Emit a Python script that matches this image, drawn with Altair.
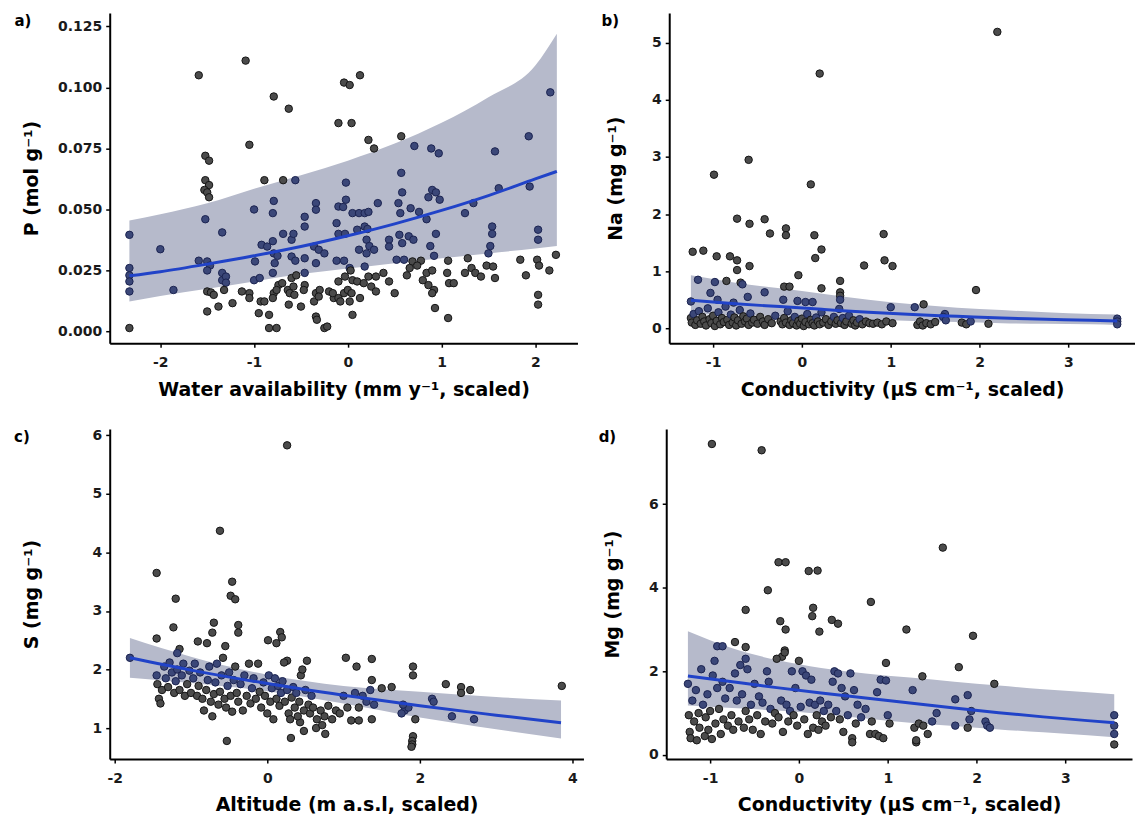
import altair as alt
import numpy as np
import pandas as pd

# ---------------- Panel a: P vs water availability ----------------
a_pts = [(-2.33, 0.0396), (-2.33, 0.026), (-2.33, 0.023), (-2.33, 0.0205), (-2.33, 0.0164), (-2.33, 0.0014),
         (-2.0, 0.0337), (-1.86, 0.017), (-1.59, 0.105), (-1.59, 0.029),
         (-1.52, 0.072), (-1.48, 0.070), (-1.52, 0.062), (-1.48, 0.060), (-1.53, 0.058), (-1.5, 0.057),
         (-1.48, 0.055), (-1.52, 0.046), (-1.5, 0.0287), (-1.47, 0.027), (-1.5, 0.025), (-1.5, 0.0164),
         (-1.46, 0.016), (-1.43, 0.015), (-1.5, 0.0082), (-1.34, 0.0406), (-1.34, 0.024), (-1.34, 0.021),
         (-1.38, 0.0102), (-1.3, 0.0225), (-1.3, 0.020), (-1.32, 0.017), (-1.23, 0.0116), (-1.13, 0.0164),
         (-1.09, 0.111), (-1.05, 0.0765), (-1.05, 0.0157), (-1.05, 0.0137), (-1.0, 0.050), (-0.99, 0.0287),
         (-1.0, 0.021), (-0.95, 0.0075), (-0.93, 0.0123), (-0.94, 0.0219), (-0.92, 0.0355), (-0.89, 0.062),
         (-0.89, 0.0123), (-0.84, 0.0068), (-0.84, 0.0014), (-0.86, 0.0348), (-0.79, 0.0963), (-0.79, 0.0535),
         (-0.8, 0.0485), (-0.8, 0.037), (-0.79, 0.032), (-0.78, 0.028), (-0.8, 0.024), (-0.79, 0.0157),
         (-0.8, 0.0137), (-0.76, 0.0014), (-0.75, 0.031), (-0.74, 0.019), (-0.76, 0.017), (-0.69, 0.062),
         (-0.69, 0.040), (-0.7, 0.0198), (-0.63, 0.0913), (-0.64, 0.017), (-0.62, 0.0157), (-0.63, 0.011),
         (-0.6, 0.0376), (-0.58, 0.040), (-0.6, 0.0307), (-0.6, 0.0219), (-0.58, 0.0184), (-0.57, 0.015),
         (-0.56, 0.062), (-0.56, 0.029), (-0.55, 0.023), (-0.5, 0.0102), (-0.46, 0.047), (-0.46, 0.043),
         (-0.46, 0.030), (-0.46, 0.024), (-0.46, 0.019), (-0.47, 0.017), (-0.34, 0.0526), (-0.34, 0.0499),
         (-0.36, 0.0348), (-0.34, 0.028), (-0.34, 0.0157), (-0.36, 0.0123), (-0.34, 0.0061), (-0.33, 0.0048),
         (-0.31, 0.0335), (-0.3, 0.017), (-0.31, 0.0143), (-0.25, 0.0014), (-0.22, 0.002), (-0.25, 0.032),
         (-0.2, 0.0164), (-0.15, 0.0137), (-0.16, 0.0157), (-0.1, 0.0854), (-0.1, 0.0512), (-0.12, 0.0444),
         (-0.1, 0.040), (-0.12, 0.029), (-0.1, 0.0205), (-0.1, 0.0137), (-0.08, 0.0123), (-0.04, 0.102),
         (-0.02, 0.061), (-0.02, 0.054), (-0.05, 0.051), (-0.03, 0.040), (-0.04, 0.029), (-0.03, 0.0225),
         (-0.04, 0.0157), (0.02, 0.101), (0.04, 0.0854), (0.05, 0.0485), (0.02, 0.026), (0.03, 0.025),
         (0.05, 0.021), (0.0, 0.017), (0.04, 0.0157), (0.02, 0.0123), (0.05, 0.0068), (0.13, 0.105),
         (0.12, 0.0485), (0.1, 0.0417), (0.12, 0.0335), (0.1, 0.0205), (0.13, 0.0137), (0.22, 0.0785),
         (0.18, 0.0485), (0.22, 0.049), (0.18, 0.043), (0.21, 0.042), (0.2, 0.0376), (0.23, 0.035),
         (0.2, 0.032), (0.18, 0.0266), (0.22, 0.0225), (0.17, 0.0198), (0.25, 0.0184), (0.28, 0.075),
         (0.32, 0.0526), (0.28, 0.0335), (0.3, 0.0225), (0.3, 0.0164), (0.38, 0.024), (0.44, 0.0376),
         (0.44, 0.0348), (0.44, 0.0205), (0.5, 0.0157), (0.54, 0.0526), (0.52, 0.0294), (0.57, 0.080),
         (0.57, 0.065), (0.58, 0.057), (0.56, 0.0485), (0.55, 0.0396), (0.58, 0.0362), (0.6, 0.0294),
         (0.67, 0.0505), (0.65, 0.039), (0.7, 0.0376), (0.69, 0.0287), (0.66, 0.026), (0.63, 0.023),
         (0.71, 0.076), (0.76, 0.049), (0.78, 0.029), (0.74, 0.027), (0.8, 0.021), (0.84, 0.024),
         (0.89, 0.075), (0.97, 0.073), (0.9, 0.058), (0.94, 0.057), (0.86, 0.055), (0.98, 0.054),
         (0.84, 0.046), (0.94, 0.040), (0.88, 0.035), (0.92, 0.031), (0.9, 0.025), (0.86, 0.019),
         (0.92, 0.017), (0.9, 0.0157), (0.93, 0.0096), (1.07, 0.029), (1.06, 0.024), (1.08, 0.0198),
         (1.07, 0.0055), (1.13, 0.0198), (1.25, 0.0485), (1.25, 0.024), (1.28, 0.030), (1.34, 0.0526),
         (1.32, 0.026), (1.36, 0.024), (1.42, 0.0225), (1.57, 0.0738), (1.54, 0.043), (1.54, 0.040),
         (1.52, 0.035), (1.5, 0.032), (1.48, 0.027), (1.55, 0.0266), (1.57, 0.0219), (1.61, 0.0587),
         (1.84, 0.0294), (1.9, 0.023), (1.93, 0.080), (1.94, 0.0594), (2.03, 0.0417), (2.03, 0.0376),
         (2.02, 0.0294), (2.04, 0.027), (2.03, 0.015), (2.03, 0.011), (2.15, 0.025), (2.16, 0.098),
         (2.22, 0.0314)]
a_fit_x = [-2.33, -2.0, -1.5, -1.0, -0.5, 0.0, 0.5, 1.0, 1.5, 2.0, 2.23]
a_fit = [0.0228, 0.0245, 0.0276, 0.0310, 0.0348, 0.0392, 0.0441, 0.0496, 0.0557, 0.0625, 0.0656]
a_lo = [0.0123, 0.0145, 0.0175, 0.0205, 0.0235, 0.0258, 0.0280, 0.0300, 0.0320, 0.0340, 0.0350]
a_hi = [0.0455, 0.0480, 0.0525, 0.0585, 0.0640, 0.0700, 0.0770, 0.0855, 0.0960, 0.1090, 0.1220]

# ---------------- Panel b: Na vs conductivity ----------------
b_pts = [(2.2, 5.19), (0.2, 4.46), (-0.6, 2.95), (-0.99, 2.69), (0.1, 2.52), (-0.73, 1.92), (-0.59, 1.83),
         (-0.42, 1.91), (-0.36, 1.66), (-0.18, 1.75), (-0.18, 1.63), (0.14, 1.63), (0.22, 1.38), (0.15, 1.23),
         (0.92, 1.65), (0.93, 1.19), (1.02, 1.09), (0.7, 1.10), (1.96, 0.67), (-1.23, 1.34), (-1.11, 1.36),
         (-0.96, 1.26), (-0.81, 1.26), (-0.73, 1.19), (-0.73, 1.02), (-0.59, 1.09), (-0.04, 0.93), (-1.17, 0.85),
         (-0.98, 0.81), (-0.85, 0.83), (-0.69, 0.80), (-0.67, 0.77), (-0.2, 0.73), (-0.14, 0.73), (0.22, 0.70),
         (0.43, 0.83), (0.43, 0.63), (0.43, 0.57), (0.43, 0.50), (-1.03, 0.62), (-0.61, 0.55), (-0.42, 0.63),
         (-0.21, 0.50), (-0.05, 0.48), (0.04, 0.46), (0.12, 0.46), (1.0, 0.37), (1.27, 0.37), (1.37, 0.42),
         (1.61, 0.25), (1.59, 0.20), (-1.25, 0.47), (-0.95, 0.50), (-0.77, 0.45),
         (-1.25, 0.18), (-1.24, 0.10), (-1.22, 0.25), (-1.2, 0.06), (-1.18, 0.14), (-1.16, 0.30), (-1.14, 0.08),
         (-1.12, 0.20), (-1.1, 0.12), (-1.08, 0.05), (-1.06, 0.35), (-1.04, 0.16), (-1.02, 0.09), (-1.0, 0.22),
         (-0.98, 0.04), (-0.96, 0.13), (-0.94, 0.28), (-0.92, 0.07), (-0.9, 0.18), (-0.88, 0.11), (-0.86, 0.38),
         (-0.84, 0.15), (-0.82, 0.06), (-0.8, 0.24), (-0.78, 0.10), (-0.76, 0.19), (-0.74, 0.05), (-0.72, 0.14),
         (-0.7, 0.32), (-0.68, 0.08), (-0.66, 0.21), (-0.64, 0.12), (-0.62, 0.17), (-0.6, 0.06), (-0.58, 0.26),
         (-0.56, 0.10), (-0.54, 0.15), (-0.5, 0.08), (-0.47, 0.20), (-0.44, 0.12), (-0.42, 0.06), (-0.38, 0.16),
         (-0.34, 0.09), (-0.3, 0.22), (-0.24, 0.12), (-0.22, 0.07), (-0.2, 0.18), (-0.18, 0.10), (-0.16, 0.30),
         (-0.14, 0.06), (-0.12, 0.14), (-0.1, 0.09), (-0.08, 0.20), (-0.06, 0.05), (-0.04, 0.13), (-0.02, 0.08),
         (0.0, 0.17), (0.02, 0.04), (0.04, 0.11), (0.06, 0.25), (0.08, 0.07), (0.1, 0.15), (0.12, 0.09),
         (0.14, 0.05), (0.16, 0.19), (0.18, 0.12), (0.2, 0.07), (0.22, 0.28), (0.24, 0.10), (0.27, 0.16),
         (0.3, 0.06), (0.33, 0.12), (0.36, 0.20), (0.38, 0.08), (0.4, 0.14), (0.42, 0.34), (0.44, 0.09),
         (0.46, 0.18), (0.48, 0.06), (0.5, 0.12), (0.53, 0.22), (0.56, 0.08), (0.58, 0.14), (0.6, 0.05),
         (0.62, 0.10), (0.65, 0.16), (0.68, 0.07), (0.72, 0.12), (0.76, 0.09), (0.8, 0.08), (0.85, 0.10),
         (0.9, 0.07), (0.95, 0.12), (1.02, 0.09), (1.3, 0.06), (1.33, 0.12), (1.36, 0.05), (1.4, 0.09),
         (1.45, 0.07), (1.5, 0.11), (1.62, 0.14), (1.8, 0.10), (1.85, 0.07), (1.9, 0.12), (2.1, 0.08),
         (3.55, 0.17), (3.55, 0.12), (3.55, 0.07)]
b_fit_x = [-1.25, -0.75, -0.25, 0.25, 0.75, 1.25, 1.75, 2.25, 2.75, 3.25, 3.55]
b_fit = [0.49, 0.43, 0.38, 0.33, 0.28, 0.24, 0.21, 0.18, 0.16, 0.14, 0.13]
b_lo = [0.25, 0.23, 0.21, 0.18, 0.15, 0.13, 0.11, 0.09, 0.08, 0.07, 0.06]
b_hi = [0.93, 0.80, 0.70, 0.60, 0.50, 0.42, 0.36, 0.32, 0.28, 0.25, 0.24]

# ---------------- Panel c: S vs altitude ----------------
c_pts = [(0.26, 5.83), (-0.62, 4.37), (-1.45, 3.65), (-0.46, 3.5), (-0.48, 3.26), (-0.42, 3.2), (-1.2, 3.21),
         (-0.7, 2.8), (-0.38, 2.76), (-0.38, 2.63), (-1.23, 2.72), (-0.72, 2.63), (0.17, 2.64), (0.19, 2.55),
         (0.01, 2.5), (0.12, 2.45), (-1.45, 2.53), (-0.91, 2.48), (-0.79, 2.45), (-0.55, 2.4), (-1.15, 2.35),
         (-1.18, 2.28), (1.03, 2.2), (1.37, 2.18), (0.26, 2.15), (0.22, 2.12), (1.91, 2.05), (1.91, 1.9),
         (1.17, 2.05), (1.37, 1.82), (2.34, 1.75), (2.54, 1.7), (2.66, 1.65), (2.54, 1.6), (3.86, 1.72),
         (1.5, 1.68), (1.63, 1.7), (2.16, 1.5), (2.18, 1.45), (2.42, 1.2), (2.71, 1.15), (1.1, 1.13),
         (1.2, 1.13), (1.37, 1.15), (1.91, 0.86), (1.9, 0.78), (1.9, 0.72), (1.89, 0.68), (1.94, 1.15),
         (1.8, 1.3), (1.85, 1.35), (1.78, 1.4), (1.76, 1.25), (-0.53, 0.78), (0.31, 0.83), (0.76, 0.9),
         (0.48, 0.95), (0.64, 1.0), (0.72, 1.05), (0.43, 1.1),
         (-1.8, 2.2), (-1.45, 1.9), (-1.44, 1.75), (-1.42, 1.5), (-1.4, 1.42), (-1.38, 1.65), (-1.35, 2.05),
         (-1.33, 1.85), (-1.3, 1.7), (-1.28, 2.12), (-1.25, 1.95), (-1.22, 1.6), (-1.2, 1.8), (-1.18, 2.0),
         (-1.15, 1.65), (-1.12, 1.9), (-1.1, 2.1), (-1.08, 1.55), (-1.05, 1.75), (-1.02, 1.98), (-1.0, 1.6),
         (-0.97, 1.85), (-0.95, 2.1), (-0.92, 1.55), (-0.9, 1.72), (-0.88, 1.95), (-0.85, 1.5), (-0.83, 1.3),
         (-0.8, 1.65), (-0.78, 1.82), (-0.76, 2.05), (-0.74, 1.45), (-0.72, 1.2), (-0.7, 1.58), (-0.68, 1.78),
         (-0.66, 2.1), (-0.64, 1.4), (-0.62, 1.62), (-0.6, 1.9), (-0.58, 2.2), (-0.56, 1.5), (-0.54, 1.35),
         (-0.52, 1.72), (-0.5, 1.95), (-0.48, 1.55), (-0.46, 1.28), (-0.44, 1.82), (-0.42, 2.05), (-0.4, 1.6),
         (-0.38, 1.45), (-0.35, 1.75), (-0.32, 1.3), (-0.3, 1.9), (-0.27, 1.55), (-0.24, 2.1), (-0.22, 1.42),
         (-0.2, 1.68), (-0.18, 1.85), (-0.15, 1.5), (-0.12, 2.1), (-0.1, 1.62), (-0.08, 1.35), (-0.05, 1.78),
         (-0.03, 1.55), (0.0, 1.25), (0.02, 1.9), (0.04, 1.45), (0.06, 1.68), (0.08, 1.15), (0.1, 1.85),
         (0.12, 1.5), (0.14, 1.72), (0.16, 1.38), (0.18, 1.6), (0.2, 1.8), (0.23, 1.45), (0.26, 1.65),
         (0.28, 1.25), (0.3, 1.15), (0.32, 1.52), (0.34, 1.7), (0.36, 1.35), (0.38, 1.6), (0.4, 1.2),
         (0.42, 1.45), (0.44, 1.9), (0.46, 2.0), (0.48, 1.3), (0.5, 1.65), (0.52, 2.15), (0.54, 1.4),
         (0.56, 1.25), (0.58, 1.55), (0.6, 1.35), (0.65, 1.15), (0.7, 1.3), (0.75, 1.2), (0.8, 1.38),
         (0.85, 1.15), (0.9, 1.3), (0.95, 1.25), (1.0, 1.55), (1.05, 1.35), (1.15, 1.6), (1.2, 1.35),
         (1.25, 1.55), (1.3, 1.45), (1.35, 1.65), (1.4, 1.4)]
c_fit_x = [-1.8, -1.0, 0.0, 1.0, 2.0, 3.0, 3.85]
c_fit = [2.20, 1.99, 1.76, 1.56, 1.38, 1.22, 1.09]
c_lo = [1.86, 1.77, 1.63, 1.42, 1.18, 0.98, 0.82]
c_hi = [2.54, 2.22, 1.91, 1.72, 1.62, 1.53, 1.47]

# ---------------- Panel d: Mg vs conductivity ----------------
d_pts = [(-0.98, 7.44), (-0.42, 7.29), (1.62, 4.96), (-0.23, 4.61), (-0.15, 4.61), (0.11, 4.4), (0.21, 4.41),
         (-0.35, 3.94), (0.81, 3.66), (-0.6, 3.47), (0.16, 3.52), (0.15, 3.32), (0.37, 3.23), (0.44, 3.14),
         (-0.21, 3.2), (-0.15, 3.0), (0.23, 2.95), (1.21, 3.0), (1.96, 2.85), (-0.72, 2.7), (-0.92, 2.6),
         (-0.86, 2.6), (-0.6, 2.58), (-0.16, 2.5), (-0.19, 2.35), (-0.6, 2.3), (0.98, 2.2), (1.8, 2.1),
         (1.39, 1.88), (2.2, 1.7), (1.28, 1.55), (1.9, 1.43), (1.76, 1.33), (3.55, 0.95), (3.55, 0.7),
         (3.55, 0.5), (3.55, 0.25), (1.32, 0.3), (1.32, 0.35),
         (-1.25, 1.7), (-1.24, 0.95), (-1.23, 0.55), (-1.22, 0.4), (-1.2, 1.3), (-1.18, 0.8), (-1.16, 1.55),
         (-1.15, 0.35), (-1.13, 1.0), (-1.12, 0.65), (-1.1, 2.05), (-1.08, 1.2), (-1.06, 0.45), (-1.05, 0.9),
         (-1.03, 1.45), (-1.02, 0.6), (-1.0, 1.05), (-0.98, 0.38), (-0.97, 1.9), (-0.95, 2.25), (-0.94, 0.75),
         (-0.92, 1.6), (-0.9, 1.1), (-0.88, 0.5), (-0.86, 1.75), (-0.85, 0.85), (-0.83, 1.35), (-0.8, 0.7),
         (-0.78, 1.6), (-0.76, 0.95), (-0.74, 0.6), (-0.72, 1.95), (-0.7, 1.3), (-0.68, 0.8), (-0.66, 2.15),
         (-0.64, 1.45), (-0.62, 0.65), (-0.6, 1.05), (-0.58, 2.05), (-0.56, 0.85), (-0.54, 1.2), (-0.52, 0.6),
         (-0.5, 1.7), (-0.47, 0.95), (-0.45, 1.4), (-0.43, 0.5), (-0.41, 1.25), (-0.38, 0.8), (-0.36, 2.0),
         (-0.34, 1.75), (-0.32, 1.1), (-0.3, 0.75), (-0.27, 1.0), (-0.25, 2.3), (-0.23, 0.9), (-0.2, 1.3),
         (-0.18, 0.55), (-0.16, 2.45), (-0.14, 1.2), (-0.12, 0.8), (-0.1, 1.05), (-0.08, 2.0), (-0.06, 0.95),
         (-0.04, 1.6), (-0.02, 0.7), (0.0, 2.25), (0.02, 1.15), (0.04, 2.0), (0.06, 0.85), (0.08, 1.9),
         (0.1, 0.5), (0.12, 1.25), (0.14, 1.8), (0.16, 0.65), (0.18, 1.2), (0.2, 0.95), (0.22, 0.6),
         (0.24, 1.3), (0.26, 0.8), (0.28, 1.05), (0.3, 0.7), (0.33, 1.2), (0.36, 0.9), (0.38, 1.75),
         (0.4, 2.0), (0.42, 1.05), (0.44, 1.95), (0.46, 0.85), (0.48, 1.6), (0.5, 0.55), (0.52, 1.4),
         (0.55, 0.95), (0.58, 1.95), (0.6, 0.4), (0.6, 0.3), (0.62, 1.55), (0.64, 0.75), (0.66, 1.2),
         (0.7, 0.9), (0.75, 1.1), (0.8, 0.5), (0.82, 0.8), (0.86, 0.5), (0.88, 1.5), (0.9, 0.45),
         (0.92, 1.8), (0.95, 0.4), (0.98, 1.78), (1.0, 0.95), (1.02, 0.75), (1.3, 0.65), (1.35, 0.75),
         (1.4, 0.7), (1.45, 0.5), (1.5, 0.8), (1.55, 1.0), (1.76, 0.7), (1.9, 0.65), (1.92, 0.85),
         (1.94, 1.05), (2.1, 0.8), (2.12, 0.7), (2.15, 0.65)]
d_fit_x = [-1.25, -0.75, -0.25, 0.25, 0.75, 1.25, 1.75, 2.25, 2.75, 3.25, 3.55]
d_fit = [1.89, 1.75, 1.61, 1.48, 1.36, 1.24, 1.12, 1.01, 0.91, 0.82, 0.77]
d_lo = [1.18, 1.12, 1.06, 0.98, 0.87, 0.77, 0.69, 0.61, 0.54, 0.47, 0.42]
d_hi = [2.96, 2.55, 2.27, 2.08, 1.95, 1.85, 1.75, 1.66, 1.57, 1.50, 1.45]

FONT = "DejaVu Sans"
RIBBON = "#b6bacb"
LINE = "#2143c8"


def panel(pts, fx, ff, flo, fhi, xdom, ydom, xticks, yticks, yfmt, xtitle, ytitle,
          tag, width, height, yext, title_dx, tag_dx):
    px = np.array([p[0] for p in pts])
    py = np.array([p[1] for p in pts])
    lo_at = np.interp(px, fx, flo)
    hi_at = np.interp(px, fx, fhi)
    inside = (py >= lo_at) & (py <= hi_at) & (px >= min(fx)) & (px <= max(fx))
    pdf = pd.DataFrame({"x": px, "y": py, "g": np.where(inside, "in", "out")})
    fdf = pd.DataFrame({"x": fx, "fit": ff, "lo": flo, "hi": fhi})

    xs = alt.Scale(domain=xdom, nice=False, zero=False)
    ys = alt.Scale(domain=ydom, nice=False, zero=False)
    common = dict(grid=False, domainColor="black", domainWidth=2, tickColor="black",
                  tickWidth=1.5, tickSize=4, labelFont=FONT, labelFontSize=14,
                  labelFontWeight="bold", labelColor="#1a1a1a", titleFont=FONT,
                  titleFontSize=19, titleFontWeight="bold", titleColor="black",
                  labelFlush=False, labelOverlap=False,
                  labelExpr="replace(datum.label, '\u2212', '-')")
    xax = alt.Axis(values=xticks, format="d", title=xtitle, labelPadding=8,
                   titlePadding=11, **common)
    yax = alt.Axis(values=yticks, format=yfmt, title=ytitle, labelPadding=4,
                   minExtent=yext, maxExtent=yext, titleX=title_dx, titleY=height / 2,
                   titleBaseline="middle", **common)

    ribbon = alt.Chart(fdf).mark_area(color=RIBBON, opacity=1, interpolate="monotone").encode(
        x=alt.X("x:Q", scale=xs, axis=xax), y=alt.Y("lo:Q", scale=ys, axis=yax), y2="hi:Q")
    points = alt.Chart(pdf).mark_circle(size=56, opacity=1, strokeWidth=1).encode(
        x=alt.X("x:Q", scale=xs), y=alt.Y("y:Q", scale=ys),
        fill=alt.Fill("g:N", scale=alt.Scale(domain=["out", "in"], range=["#4b4b4b", "#3b4778"]), legend=None),
        stroke=alt.Stroke("g:N", scale=alt.Scale(domain=["out", "in"], range=["#151515", "#1b2350"]), legend=None))
    line = alt.Chart(fdf).mark_line(color=LINE, strokeWidth=3, interpolate="monotone").encode(
        x=alt.X("x:Q", scale=xs), y=alt.Y("fit:Q", scale=ys))
    label = alt.Chart(pd.DataFrame({"t": [tag]})).mark_text(
        font=FONT, fontSize=15, fontWeight="bold", color="black", align="center",
        baseline="middle").encode(x=alt.value(tag_dx), y=alt.value(8), text="t:N")
    return alt.layer(ribbon, points, line, label).properties(width=width, height=height)


pa = panel(a_pts, a_fit_x, a_fit, a_lo, a_hi, [-2.54, 2.45], [-0.0048, 0.1305],
           [-2, -1, 0, 1, 2], [0, 0.025, 0.05, 0.075, 0.1, 0.125], ".3f",
           "Water availability (mm y⁻¹, scaled)", "P (mol g⁻¹)", "a)", 469, 331, 97, -78, -87)
pb = panel(b_pts, b_fit_x, b_fit, b_lo, b_hi, [-1.494, 3.75], [-0.26, 5.52],
           [-1, 0, 1, 2, 3], [0, 1, 2, 3, 4, 5], "d",
           "Conductivity (µS cm⁻¹, scaled)", "Na (mg g⁻¹)", "b)", 467, 331, 70, -54, -59)
pc = panel(c_pts, c_fit_x, c_fit, c_lo, c_hi, [-2.065, 4.144], [0.47, 6.11],
           [-2, 0, 2, 4], [1, 2, 3, 4, 5, 6], "d",
           "Altitude (m a.s.l, scaled)", "S (mg g⁻¹)", "c)", 475, 331, 100, -78, -88)
pd_ = panel(d_pts, d_fit_x, d_fit, d_lo, d_hi, [-1.494, 3.75], [-0.1, 7.8],
            [-1, 0, 1, 2, 3], [0, 2, 4, 6], "d",
            "Conductivity (µS cm⁻¹, scaled)", "Mg (mg g⁻¹)", "d)", 467, 331, 70, -54, -59)

row1 = alt.hconcat(pa, pb, spacing=22)
row2 = alt.hconcat(pc, pd_, spacing=13)
chart = alt.vconcat(row1, row2, spacing=29).properties(
    padding={"left": 10, "top": 12, "right": 0, "bottom": 0},
    background="white",
).configure_view(stroke=None)

chart.save("out.html", embed_options={"renderer": "svg", "actions": False})
